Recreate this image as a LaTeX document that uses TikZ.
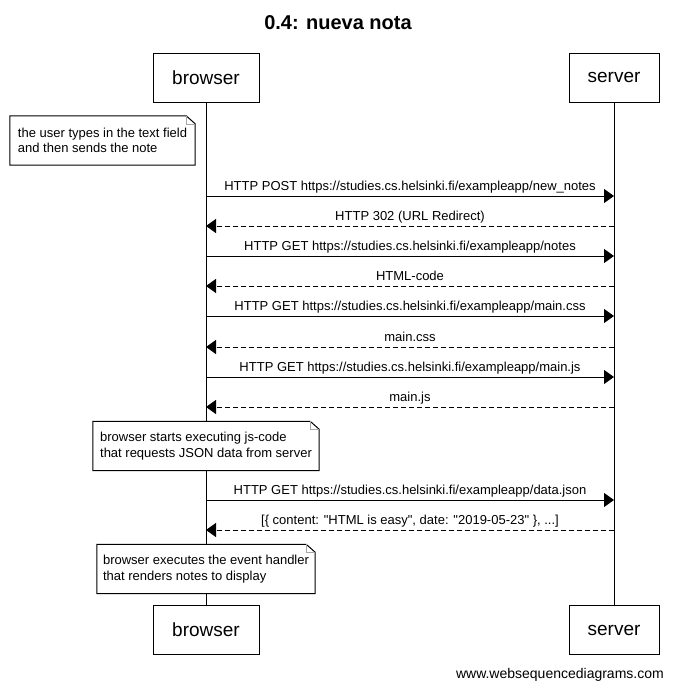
\documentclass[tikz,border=0pt]{standalone}
\usepackage{fontspec}
\setmainfont{Liberation Sans}[Ligatures=TeXOff]
\usetikzlibrary{arrows.meta, positioning}

\newcommand{\foldnote}[1]{%
    \draw[line width=1pt] (#1.south west) -- (#1.north west) -- ([xshift=-9pt]#1.north east)
        -- ([yshift=-8pt]#1.north east) -- (#1.south east) -- cycle;
    \draw[gray!70] ([xshift=-9pt]#1.north east) |- ([yshift=-8pt]#1.north east);
}

\begin{document}
\begin{tikzpicture}[x=1pt, y=-1pt,
    actor/.style={draw, line width=1pt, minimum height=49pt, inner sep=0pt,
        font=\fontsize{19}{22}\selectfont},
    msg/.style={line width=1pt, -{Triangle[length=10pt, width=14pt]}},
    reply/.style={msg, dash pattern=on 5pt off 3pt},
    lbl/.style={anchor=south, inner xsep=0pt, inner ysep=2pt, text depth=3pt,
        font=\fontsize{13}{15.5}\selectfont},
    note/.style={inner xsep=5pt, inner ysep=0pt, minimum height=49pt, align=left,
        font=\fontsize{13}{15.5}\selectfont}]
    \useasboundingbox (0,0) rectangle (674,689);

    \node[font=\fontsize{20}{24}\selectfont\bfseries] (title) at (338,23) {0.4: nueva nota};

    \node[actor, minimum width=106pt] (browserTop) at (206,77.5) {browser};
    \node[actor, minimum width=90pt] (serverTop) at (614,77.5) {server};
    \node[actor, minimum width=106pt] (browserBottom) at (206,630) {browser};
    \node[actor, minimum width=90pt] (serverBottom) at (614,630) {server};

    \draw[line width=1pt] (browserTop) -- (browserBottom);
    \draw[line width=1pt] (serverTop) -- (serverBottom);

    \node[note, minimum width=185pt] (typeNote) at (102.5,140.5)
        {the user types in the text field\\and then sends the note};
    \foldnote{typeNote}

    \node[lbl] (postNotes) at (410,196) {HTTP POST https://studies.cs.helsinki.fi/exampleapp/new\_notes};
    \draw[msg] (browserTop.south |- postNotes.south) -- (serverTop.south |- postNotes.south);

    \node[lbl] (redirect) at (410,226) {HTTP 302 (URL Redirect)};
    \draw[reply] (serverTop.south |- redirect.south) -- (browserTop.south |- redirect.south);

    \node[lbl] (getNotes) at (410,256) {HTTP GET https://studies.cs.helsinki.fi/exampleapp/notes};
    \draw[msg] (browserTop.south |- getNotes.south) -- (serverTop.south |- getNotes.south);

    \node[lbl] (htmlCode) at (410,286) {HTML-code};
    \draw[reply] (serverTop.south |- htmlCode.south) -- (browserTop.south |- htmlCode.south);

    \node[lbl] (getCss) at (410,316) {HTTP GET https://studies.cs.helsinki.fi/exampleapp/main.css};
    \draw[msg] (browserTop.south |- getCss.south) -- (serverTop.south |- getCss.south);

    \node[lbl] (mainCss) at (410,347) {main.css};
    \draw[reply] (serverTop.south |- mainCss.south) -- (browserTop.south |- mainCss.south);

    \node[lbl] (getJs) at (410,377) {HTTP GET https://studies.cs.helsinki.fi/exampleapp/main.js};
    \draw[msg] (browserTop.south |- getJs.south) -- (serverTop.south |- getJs.south);

    \node[lbl] (mainJs) at (410,407) {main.js};
    \draw[reply] (serverTop.south |- mainJs.south) -- (browserTop.south |- mainJs.south);

    \node[note, minimum width=226pt, fill=white] (jsNote) at (206,446)
        {browser starts executing js-code\\that requests JSON data from server};
    \foldnote{jsNote}

    \node[lbl] (getJson) at (410,500) {HTTP GET https://studies.cs.helsinki.fi/exampleapp/data.json};
    \draw[msg] (browserTop.south |- getJson.south) -- (serverTop.south |- getJson.south);

    \node[lbl] (jsonData) at (410,530) {[\{ content: "HTML is easy", date: "2019-05-23" \}, ...]};
    \draw[reply] (serverTop.south |- jsonData.south) -- (browserTop.south |- jsonData.south);

    \node[note, minimum width=218pt, fill=white] (renderNote) at (206,569)
        {browser executes the event handler\\that renders notes to display};
    \foldnote{renderNote}

    \node[anchor=east, inner sep=0pt, font=\fontsize{14}{17}\selectfont] (footer) at (664,675)
        {www.websequencediagrams.com};
\end{tikzpicture}
\end{document}
